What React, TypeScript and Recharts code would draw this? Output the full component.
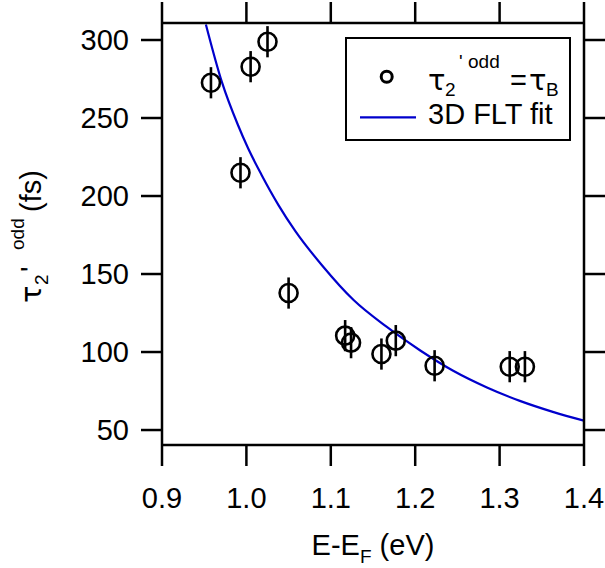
import {
  ComposedChart,
  Line,
  Scatter,
  ErrorBar,
  XAxis,
  YAxis,
  Legend,
} from 'recharts'

const FONT = '"Liberation Sans", Arial, Helvetica, sans-serif'
const GREEK = '"DejaVu Sans", sans-serif'
const BLUE = '#0000CC'

// measured lifetimes
const energy = [0.958, 1.005, 1.025, 0.993, 1.05, 1.117, 1.124, 1.16, 1.177, 1.223, 1.312, 1.33]
const tau = [272.6, 282.9, 298.9, 214.9, 137.8, 110.5, 106, 98.7, 107.3, 91.2, 90.6, 90.6]
const tauErr = [10, 10, 10, 10, 10, 10, 10, 10, 10, 10, 10, 10]

// 3D Fermi-liquid fit curve
const fitEnergy = [0.952, 0.971, 0.99, 1.002, 1.018, 1.038, 1.058, 1.09, 1.127, 1.166, 1.206, 1.245, 1.285, 1.324, 1.364, 1.4]
const fitTau = [310, 273, 245.5, 230.6, 213.5, 194.2, 177.5, 155.3, 133.3, 116.2, 101, 88, 77.3, 68.7, 61.5, 56]

const xTicks = [0.9, 1.0, 1.1, 1.2, 1.3, 1.4]
const yTicks = [50, 100, 150, 200, 250, 300]
const xDomain = [0.9, 1.4]
const yDomain = [40.4, 310.9]

const points = energy.map((e, i) => ({ e, tau: tau[i], err: tauErr[i] }))
const fit = fitEnergy.map((e, i) => ({ e, tau: fitTau[i] }))

const axisStroke = { stroke: '#000', strokeWidth: 2.5 }
const tickFont = { fontSize: 29, fill: '#000', fontFamily: FONT }

// mirrored axes keep their tick marks but show no numbers
const NoLabel = () => <g />

function Ring(props: any) {
  return <circle cx={props.cx} cy={props.cy} r={9} fill="none" stroke="#000" strokeWidth={2.6} />
}

function XTitle({ viewBox }: any) {
  const cx = viewBox.x + viewBox.width / 2
  return (
    <text x={cx} y={viewBox.y + 110} textAnchor="middle" fontSize={29} fontFamily={FONT} fill="#000">
      E-E
      <tspan fontSize={19} dy={8}>F</tspan>
      <tspan dy={-8}> (eV)</tspan>
    </text>
  )
}

function YTitle({ viewBox }: any) {
  const bx = viewBox.x + 41
  const by = viewBox.y + viewBox.height / 2 + 69
  return (
    <text transform={`translate(${bx}, ${by}) rotate(-90)`} fontSize={29} fontFamily={FONT} fill="#000">
      <tspan x={0} y={0} fontFamily={GREEK}>τ</tspan>
      <tspan x={18} y={7} fontSize={19}>2</tspan>
      <tspan x={31} y={0}>'</tspan>
      <tspan x={53} y={-17} fontSize={19}>odd</tspan>
      <tspan x={91} y={0}>(fs)</tspan>
    </text>
  )
}

function LegendBox() {
  return (
    <div
      style={{
        width: 226,
        height: 104,
        border: '2.5px solid #000',
        boxSizing: 'border-box',
        background: '#fff',
        position: 'relative',
      }}
    >
      <svg width={226} height={104} style={{ position: 'absolute', left: -2.5, top: -2.5 }}>
        <circle cx={41.7} cy={39.7} r={5.5} fill="none" stroke="#000" strokeWidth={3} />
        <text fontSize={29} fontFamily={FONT} fill="#000">
          <tspan x={83} y={53} fontFamily={GREEK}>τ</tspan>
          <tspan x={100} y={59} fontSize={19}>2</tspan>
          <tspan x={114} y={31} fontSize={19}>'</tspan>
          <tspan x={123} y={31} fontSize={19}>odd</tspan>
          <tspan x={165} y={53}>=</tspan>
          <tspan x={184} y={53} fontFamily={GREEK}>τ</tspan>
          <tspan x={201} y={59} fontSize={19}>B</tspan>
        </text>
        <line x1={15} x2={71} y1={80.3} y2={80.3} stroke={BLUE} strokeWidth={2.2} />
        <text x={83} y={87} fontSize={29} fontFamily={FONT} fill="#000">
          3D FLT fit
        </text>
      </svg>
    </div>
  )
}

export default function App() {
  return (
    <div style={{ position: 'absolute', left: 0, top: 0, width: 605, height: 568, background: '#fff' }}>
      <ComposedChart width={605} height={568} margin={{ top: 22, right: 20, bottom: 0, left: 0 }}>
        <XAxis
          xAxisId="bottom"
          type="number"
          dataKey="e"
          domain={xDomain}
          ticks={xTicks}
          tickFormatter={(v: number) => v.toFixed(1)}
          height={123}
          tickSize={21}
          tickMargin={21}
          axisLine={axisStroke}
          tickLine={axisStroke}
          tick={tickFont}
          allowDataOverflow
          label={<XTitle />}
        />
        <XAxis
          xAxisId="top"
          orientation="top"
          type="number"
          dataKey="e"
          domain={xDomain}
          ticks={xTicks}
          height={1}
          tickSize={21}
          axisLine={axisStroke}
          tickLine={axisStroke}
          tick={NoLabel}
          allowDataOverflow
        />
        <YAxis
          yAxisId="left"
          type="number"
          dataKey="tau"
          domain={yDomain}
          ticks={yTicks}
          width={162}
          tickSize={21}
          tickMargin={12}
          axisLine={axisStroke}
          tickLine={axisStroke}
          tick={tickFont}
          allowDataOverflow
          label={<YTitle />}
        />
        <YAxis
          yAxisId="right"
          orientation="right"
          type="number"
          dataKey="tau"
          domain={yDomain}
          ticks={yTicks}
          width={1}
          tickSize={21}
          axisLine={axisStroke}
          tickLine={axisStroke}
          tick={NoLabel}
          allowDataOverflow
        />
        {/* carries the mirrored frame axes; draws nothing itself */}
        <Line
          xAxisId="top"
          yAxisId="right"
          data={fit}
          dataKey="tau"
          stroke="none"
          dot={false}
          activeDot={false}
          isAnimationActive={false}
          legendType="none"
        />
        <Line
          xAxisId="bottom"
          yAxisId="left"
          data={fit}
          dataKey="tau"
          type="monotone"
          stroke={BLUE}
          strokeWidth={2.2}
          dot={false}
          activeDot={false}
          isAnimationActive={false}
          legendType="none"
        />
        <Scatter
          xAxisId="bottom"
          yAxisId="left"
          data={points}
          dataKey="tau"
          shape={Ring}
          isAnimationActive={false}
          legendType="none"
        >
          <ErrorBar dataKey="err" direction="y" width={0} stroke="#000" strokeWidth={2.6} />
        </Scatter>
        <Legend
          layout="horizontal"
          verticalAlign="middle"
          align="center"
          wrapperStyle={{ left: 345, top: 37, width: 226, height: 104 }}
          content={<LegendBox />}
        />
      </ComposedChart>
    </div>
  )
}
